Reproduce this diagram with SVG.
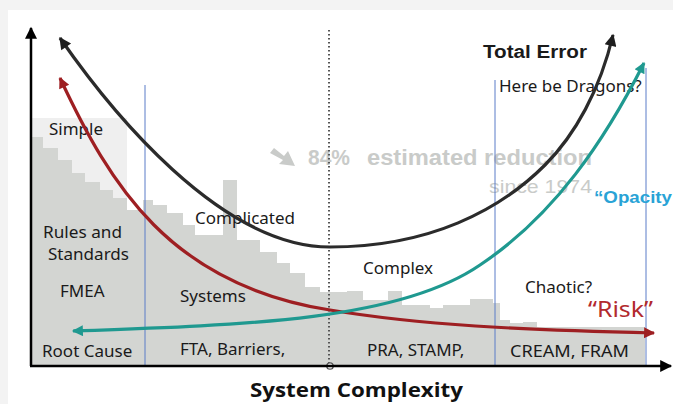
<svg xmlns="http://www.w3.org/2000/svg" width="673" height="404" viewBox="0 0 673 404">
<style>
.lbl{font-family:"Noto Sans","Open Sans",sans-serif;font-size:17px;fill:#1a1a1a}
.wm{font-family:"Liberation Sans",Arial,sans-serif;font-weight:bold;fill:#c9cbc9}
.zone{stroke:#5a7dc8;stroke-width:1;fill:none}
.crv{fill:none;stroke-width:3.2}
</style>
<defs>
<marker id="ak" viewBox="0 0 10 10" refX="9" refY="5" markerUnits="userSpaceOnUse" markerWidth="15" markerHeight="12" orient="auto-start-reverse"><path d="M0,0 L10,5 L0,10 z" fill="#1e1e1e"/></marker>
<marker id="ar" viewBox="0 0 10 10" refX="9" refY="5" markerUnits="userSpaceOnUse" markerWidth="16" markerHeight="11" orient="auto-start-reverse"><path d="M0,0 L10,5 L0,10 z" fill="#9e1f22"/></marker>
<marker id="at" viewBox="0 0 10 10" refX="9" refY="5" markerUnits="userSpaceOnUse" markerWidth="16" markerHeight="11" orient="auto-start-reverse"><path d="M0,0 L10,5 L0,10 z" fill="#1f9990"/></marker>
<marker id="ax" viewBox="0 0 10 10" refX="9" refY="5" markerUnits="userSpaceOnUse" markerWidth="14" markerHeight="12" orient="auto"><path d="M0,0 L10,5 L0,10 z" fill="#000"/></marker>
</defs>
<rect x="0" y="0" width="673" height="404" fill="#f3f3f3"/>
<rect x="8" y="10" width="665" height="394" fill="#ffffff"/>

<g id="background-bars">
<rect x="31" y="118" width="96" height="92" fill="#efefef"/>
<path fill="#d3d5d2" d="M31,366 L31,137 L43,137 L43,148 L58,148 L58,160 L72,160 L72,173 L85,173 L85,182 L100,182 L100,190 L113,190 L113,198 L127,198 L127,210 L143,210 L143,200 L153,200 L153,205 L167,205 L167,213 L183,213 L183,225 L195,225 L195,235 L223,235 L223,180 L237,180 L237,240 L260,240 L260,252 L277,252 L277,263 L290,263 L290,273 L305,273 L305,287 L320,287 L320,292 L347,292 L347,291 L363,291 L363,300 L388,300 L388,291 L402,291 L402,305 L430,305 L430,308 L443,308 L443,305 L470,305 L470,299 L493,299 L493,303 L500,303 L500,320 L510,320 L510,323 L523,323 L523,322 L537,322 L537,327 L645,327 L645,366 Z"/>
</g>

<g id="watermark">
<polygon points="270,153 274,148 284,156 288,151 295,166 279,164 283,160" fill="#c9cbc9"/>
<text class="wm" x="308" y="165" font-size="22" textLength="42" lengthAdjust="spacingAndGlyphs">84%</text>
<text class="wm" x="367" y="165" font-size="22" textLength="225" lengthAdjust="spacingAndGlyphs">estimated reduction</text>
<text x="489" y="193" font-family="Liberation Sans, Arial, sans-serif" font-size="19" fill="#c9cbc9" textLength="103" lengthAdjust="spacingAndGlyphs">since 1974</text>
</g>

<g id="zones">
<line class="zone" x1="145" y1="85" x2="145" y2="366"/>
<line class="zone" x1="495" y1="80" x2="495" y2="366"/>
<line class="zone" x1="646" y1="68" x2="646" y2="366"/>
<line x1="329" y1="30" x2="329" y2="363" stroke="#555" stroke-width="2" stroke-dasharray="1.6 2.4"/>
<circle cx="330" cy="366" r="3.2" fill="#fff" stroke="#555" stroke-width="1.3"/>
</g>

<g id="labels">
<text class="lbl" x="49" y="135">Simple</text>
<text class="lbl" x="195" y="224">Complicated</text>
<text class="lbl" x="43" y="238" font-size="16.5" textLength="79" lengthAdjust="spacingAndGlyphs">Rules and</text>
<text class="lbl" x="48" y="260" font-size="16.5" textLength="81" lengthAdjust="spacingAndGlyphs">Standards</text>
<text class="lbl" x="60" y="297">FMEA</text>
<text class="lbl" x="180" y="302">Systems</text>
<text class="lbl" x="42" y="357">Root Cause</text>
<text class="lbl" x="180" y="355">FTA, Barriers,</text>
<text class="lbl" x="363" y="274">Complex</text>
<text class="lbl" x="367" y="356">PRA, STAMP,</text>
<text class="lbl" x="510" y="357" textLength="119" lengthAdjust="spacingAndGlyphs">CREAM, FRAM</text>
<text class="lbl" x="525" y="293">Chaotic?</text>
<text class="lbl" x="499" y="92">Here be Dragons?</text>
<text x="588" y="317" font-family="Noto Sans, Open Sans, sans-serif" font-size="22" fill="#b22a2e" textLength="65" lengthAdjust="spacingAndGlyphs">“Risk”</text>
<text x="483" y="58" font-family="Liberation Sans, Arial, sans-serif" font-weight="bold" font-size="18" fill="#1a1a1a" textLength="104" lengthAdjust="spacingAndGlyphs">Total Error</text>
<text x="594" y="203" font-family="Liberation Sans, Arial, sans-serif" font-weight="bold" font-size="16" fill="#29a3d6" textLength="78" lengthAdjust="spacingAndGlyphs">“Opacity</text>
<text x="250" y="397" font-family="Open Sans, Noto Sans, sans-serif" font-weight="bold" font-size="19" fill="#111" textLength="213" lengthAdjust="spacingAndGlyphs">System Complexity</text>
</g>

<g id="connectors">
<path class="crv" stroke="#2b2b2b" marker-start="url(#ak)" marker-end="url(#ak)" d="M60,38 C110,110 220,247 330,247 C430,247 500,210 545,165 C575,135 600,90 613,35"/>
<path class="crv" stroke="#9e1f22" marker-start="url(#ar)" marker-end="url(#ar)" d="M60,78 C110,185 170,285 330,310 C420,325 520,330 654,333"/>
<path class="crv" stroke="#1f9990" marker-start="url(#at)" marker-end="url(#at)" d="M73,331 C250,325 400,320 480,265 C555,215 605,140 644,63"/>
<line x1="31" y1="366" x2="31" y2="28" stroke="#000" stroke-width="2.5" marker-end="url(#ax)"/>
<line x1="30" y1="366" x2="671" y2="366" stroke="#000" stroke-width="2.5" marker-end="url(#ax)"/>
</g>
</svg>
